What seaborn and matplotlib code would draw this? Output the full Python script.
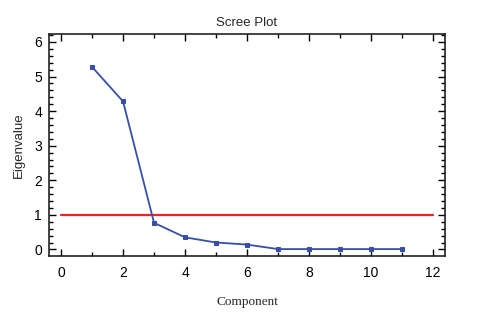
import numpy as np
import pandas as pd
import seaborn as sns
from matplotlib import pyplot as plt
from matplotlib.ticker import MultipleLocator

# scree plot values
components = [1, 2, 3, 4, 5, 6, 7, 8, 9, 10, 11]
eigenvalues = [5.28, 4.28, 0.77, 0.35, 0.20, 0.14, 0.01, 0.01, 0.01, 0.01, 0.01]
cutoff_x = [0, 12]
cutoff_y = [1, 1]

df = pd.DataFrame({"Component": components, "Eigenvalue": eigenvalues})

sns.set_style("ticks")
plt.rcParams["font.family"] = ["Liberation Sans", "DejaVu Sans"]

fig = plt.figure(figsize=(4.78, 3.21), dpi=100)
ax = fig.add_axes([0.1025, 0.2025, 0.8285, 0.6915])

sns.lineplot(x=cutoff_x, y=cutoff_y, color="#e8262a", linewidth=1.6, ax=ax)
sns.lineplot(data=df, x="Component", y="Eigenvalue", color="#3650a8",
             linewidth=1.3, marker="s", markersize=3.5,
             markeredgecolor="#3650a8", ax=ax)

ax.set_xlim(-0.39, 12.39)
ax.set_ylim(-0.19, 6.23)
ax.xaxis.set_major_locator(MultipleLocator(2))
ax.xaxis.set_minor_locator(MultipleLocator(1))
ax.yaxis.set_major_locator(MultipleLocator(1))
ax.yaxis.set_minor_locator(MultipleLocator(0.2))
ax.tick_params(which="both", direction="in", top=True, right=True,
               labelsize=10, colors="black", width=1)
ax.tick_params(which="major", length=5)
ax.tick_params(which="minor", length=3)
ax.tick_params(axis="x", which="major", pad=7)
ax.tick_params(axis="y", which="major", pad=5)
for s in ax.spines.values():
    s.set_linewidth(1.2)
    s.set_color("#222222")

ax.set_title("Scree Plot", fontsize=9.5, pad=6)
ax.set_ylabel("Eigenvalue", fontsize=9.5, labelpad=7)
ax.set_xlabel("Component", fontsize=9.5, labelpad=12,
              family=["Liberation Serif", "DejaVu Serif"])

fig.savefig("out.png", dpi=100)
